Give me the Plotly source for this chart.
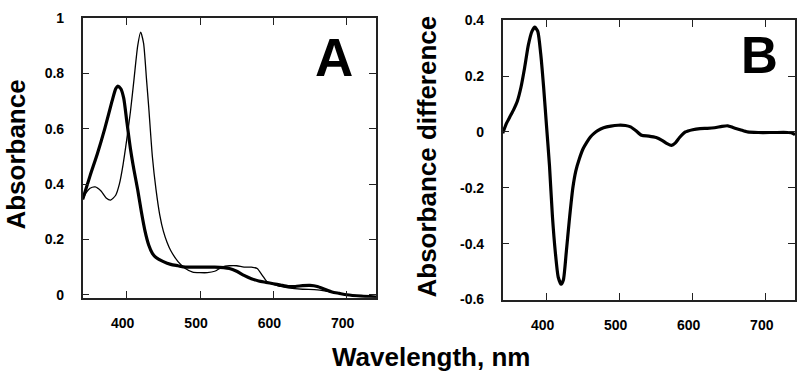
import plotly.graph_objects as go

# Panel A: absorbance spectra
wl_thick = [340, 350, 360, 370, 380, 385, 388, 392, 396, 400, 405, 410, 415, 420, 425, 430, 435,
            440, 450, 460, 470, 480, 500, 520, 540, 550, 560, 570, 580, 590, 600, 610, 620, 630,
            640, 650, 660, 670, 680, 690, 700, 720, 740]
abs_thick = [0.345, 0.43, 0.51, 0.60, 0.70, 0.745, 0.755, 0.745, 0.71, 0.63, 0.53, 0.45, 0.38,
             0.30, 0.23, 0.18, 0.15, 0.135, 0.12, 0.11, 0.105, 0.10, 0.10, 0.10, 0.095, 0.085,
             0.07, 0.058, 0.05, 0.045, 0.04, 0.035, 0.03, 0.03, 0.033, 0.034, 0.03, 0.02, 0.01,
             0.005, 0.0, -0.005, -0.008]

wl_thin = [340, 345, 350, 357, 365, 372, 378, 385, 390, 395, 400, 405, 410, 415, 419, 423, 427,
           430, 435, 440, 445, 450, 455, 460, 470, 480, 490, 500, 510, 520, 530, 540, 550, 560,
           570, 578, 585, 592, 600, 610, 620, 640, 660, 680, 700, 720, 740]
abs_thin = [0.345, 0.37, 0.385, 0.39, 0.375, 0.35, 0.342, 0.36, 0.40, 0.47, 0.56, 0.66, 0.78,
            0.90, 0.95, 0.91, 0.78, 0.68, 0.50, 0.38, 0.29, 0.23, 0.19, 0.16, 0.12, 0.095, 0.082,
            0.08, 0.08, 0.085, 0.10, 0.105, 0.105, 0.10, 0.10, 0.095, 0.07, 0.045, 0.038, 0.03,
            0.025, 0.02, 0.018, 0.01, 0.0, -0.005, -0.008]

# Panel B: difference spectrum
wl_diff = [340, 345, 350, 355, 360, 365, 370, 375, 380, 384, 388, 392, 396, 400, 404, 408, 412,
           416, 420, 423, 427, 431, 436, 440, 445, 450, 455, 460, 465, 470, 478, 488, 498, 508,
           515, 522, 530, 540, 550, 558, 565, 571, 576, 582, 590, 600, 610, 620, 630, 640, 648,
           656, 665, 675, 690, 710, 730, 735, 740]
abs_diff = [-0.005, 0.03, 0.055, 0.08, 0.11, 0.16, 0.23, 0.31, 0.36, 0.375, 0.36, 0.28, 0.16,
            0.02, -0.12, -0.30, -0.43, -0.52, -0.545, -0.53, -0.43, -0.32, -0.20, -0.14, -0.095,
            -0.06, -0.037, -0.018, -0.005, 0.005, 0.015, 0.021, 0.024, 0.023, 0.018, 0.005,
            -0.012, -0.015, -0.02, -0.03, -0.042, -0.048, -0.04, -0.02, 0.0, 0.008, 0.012, 0.013,
            0.015, 0.02, 0.022, 0.015, 0.008, 0.0, -0.002, -0.002, -0.002, -0.003, -0.01]

x_ticks = [400, 500, 600, 700]
x_ticktext = ["400", "500", "600", "700"]
ya_ticks = [0, 0.2, 0.4, 0.6, 0.8, 1]
ya_ticktext = ["0", "0.2", "0.4", "0.6", "0.8", "1"]
yb_ticks = [-0.6, -0.4, -0.2, 0, 0.2, 0.4]
yb_ticktext = ["-0.6", "-0.4", "-0.2", "0", "0.2", "0.4"]

W, H = 800, 383
FONT = "Liberation Sans, Arial, Helvetica, sans-serif"

def px(x):
    return x / W

def py(y):
    return 1 - y / H

fig = go.Figure()
fig.add_trace(go.Scatter(x=wl_thin, y=abs_thin, mode="lines", line=dict(color="black", width=1.3, shape="spline", smoothing=0.6),
                         xaxis="x", yaxis="y", showlegend=False))
fig.add_trace(go.Scatter(x=wl_thick, y=abs_thick, mode="lines", line=dict(color="black", width=3.2, shape="spline", smoothing=0.6),
                         xaxis="x", yaxis="y", showlegend=False))
fig.add_trace(go.Scatter(x=wl_diff, y=abs_diff, mode="lines", line=dict(color="black", width=3.2, shape="spline", smoothing=0.6),
                         xaxis="x2", yaxis="y2", showlegend=False))

axis_common = dict(showline=True, linecolor="#222", linewidth=1.5, mirror="ticks", ticks="inside",
                   ticklen=7, tickwidth=1.3, tickcolor="#222", showgrid=False, zeroline=False,
                   ticklabeloverflow="allow",
                   tickfont=dict(family=FONT, size=14, color="black", weight="bold"))

fig.update_layout(
    width=W, height=H, margin=dict(l=0, r=0, t=0, b=0),
    plot_bgcolor="white", paper_bgcolor="white",
    xaxis=dict(domain=[px(82.7), px(376)], range=[340, 740], tickvals=x_ticks, ticktext=x_ticktext,
               anchor="y", ticklabelstandoff=12, ticklabelshift=-4, **axis_common),
    yaxis=dict(domain=[py(302.3), py(10.7)], range=[-0.0105, 1.0], tickvals=ya_ticks, ticktext=ya_ticktext,
               anchor="x", ticklabelstandoff=14, **axis_common),
    xaxis2=dict(domain=[px(502.7), px(795)], range=[340, 740], tickvals=x_ticks, ticktext=x_ticktext,
                anchor="y2", ticklabelstandoff=12, ticklabelshift=-4, **axis_common),
    yaxis2=dict(domain=[py(304.3), py(12.7)], range=[-0.6, 0.4], tickvals=yb_ticks, ticktext=yb_ticktext,
                anchor="x2", ticklabelstandoff=14, **axis_common),
)

title_font = dict(family=FONT, size=26, color="black", weight="bold")
annos = [
    dict(text="Absorbance", x=px(16), y=py(153), textangle=-90, font=title_font),
    dict(text="Absorbance difference", x=px(427), y=py(155), textangle=-90, font=title_font),
    dict(text="Wavelength, nm", x=px(431), y=py(364), font=title_font),
    dict(text="A", x=px(334), y=py(52), font=dict(family=FONT, size=53, color="black", weight="bold")),
    dict(text="B", x=px(759), y=py(50), font=dict(family=FONT, size=51, color="black", weight="bold")),
]
for a in annos:
    fig.add_annotation(xref="paper", yref="paper", showarrow=False, xanchor="center", yanchor="middle", **a)

# remove the default 8px page margin so the figure fills the 800x383 window exactly
fig.write_html("out.html", config={"displayModeBar": False},
               post_script="document.body.style.margin='0';document.body.style.overflow='hidden';")
